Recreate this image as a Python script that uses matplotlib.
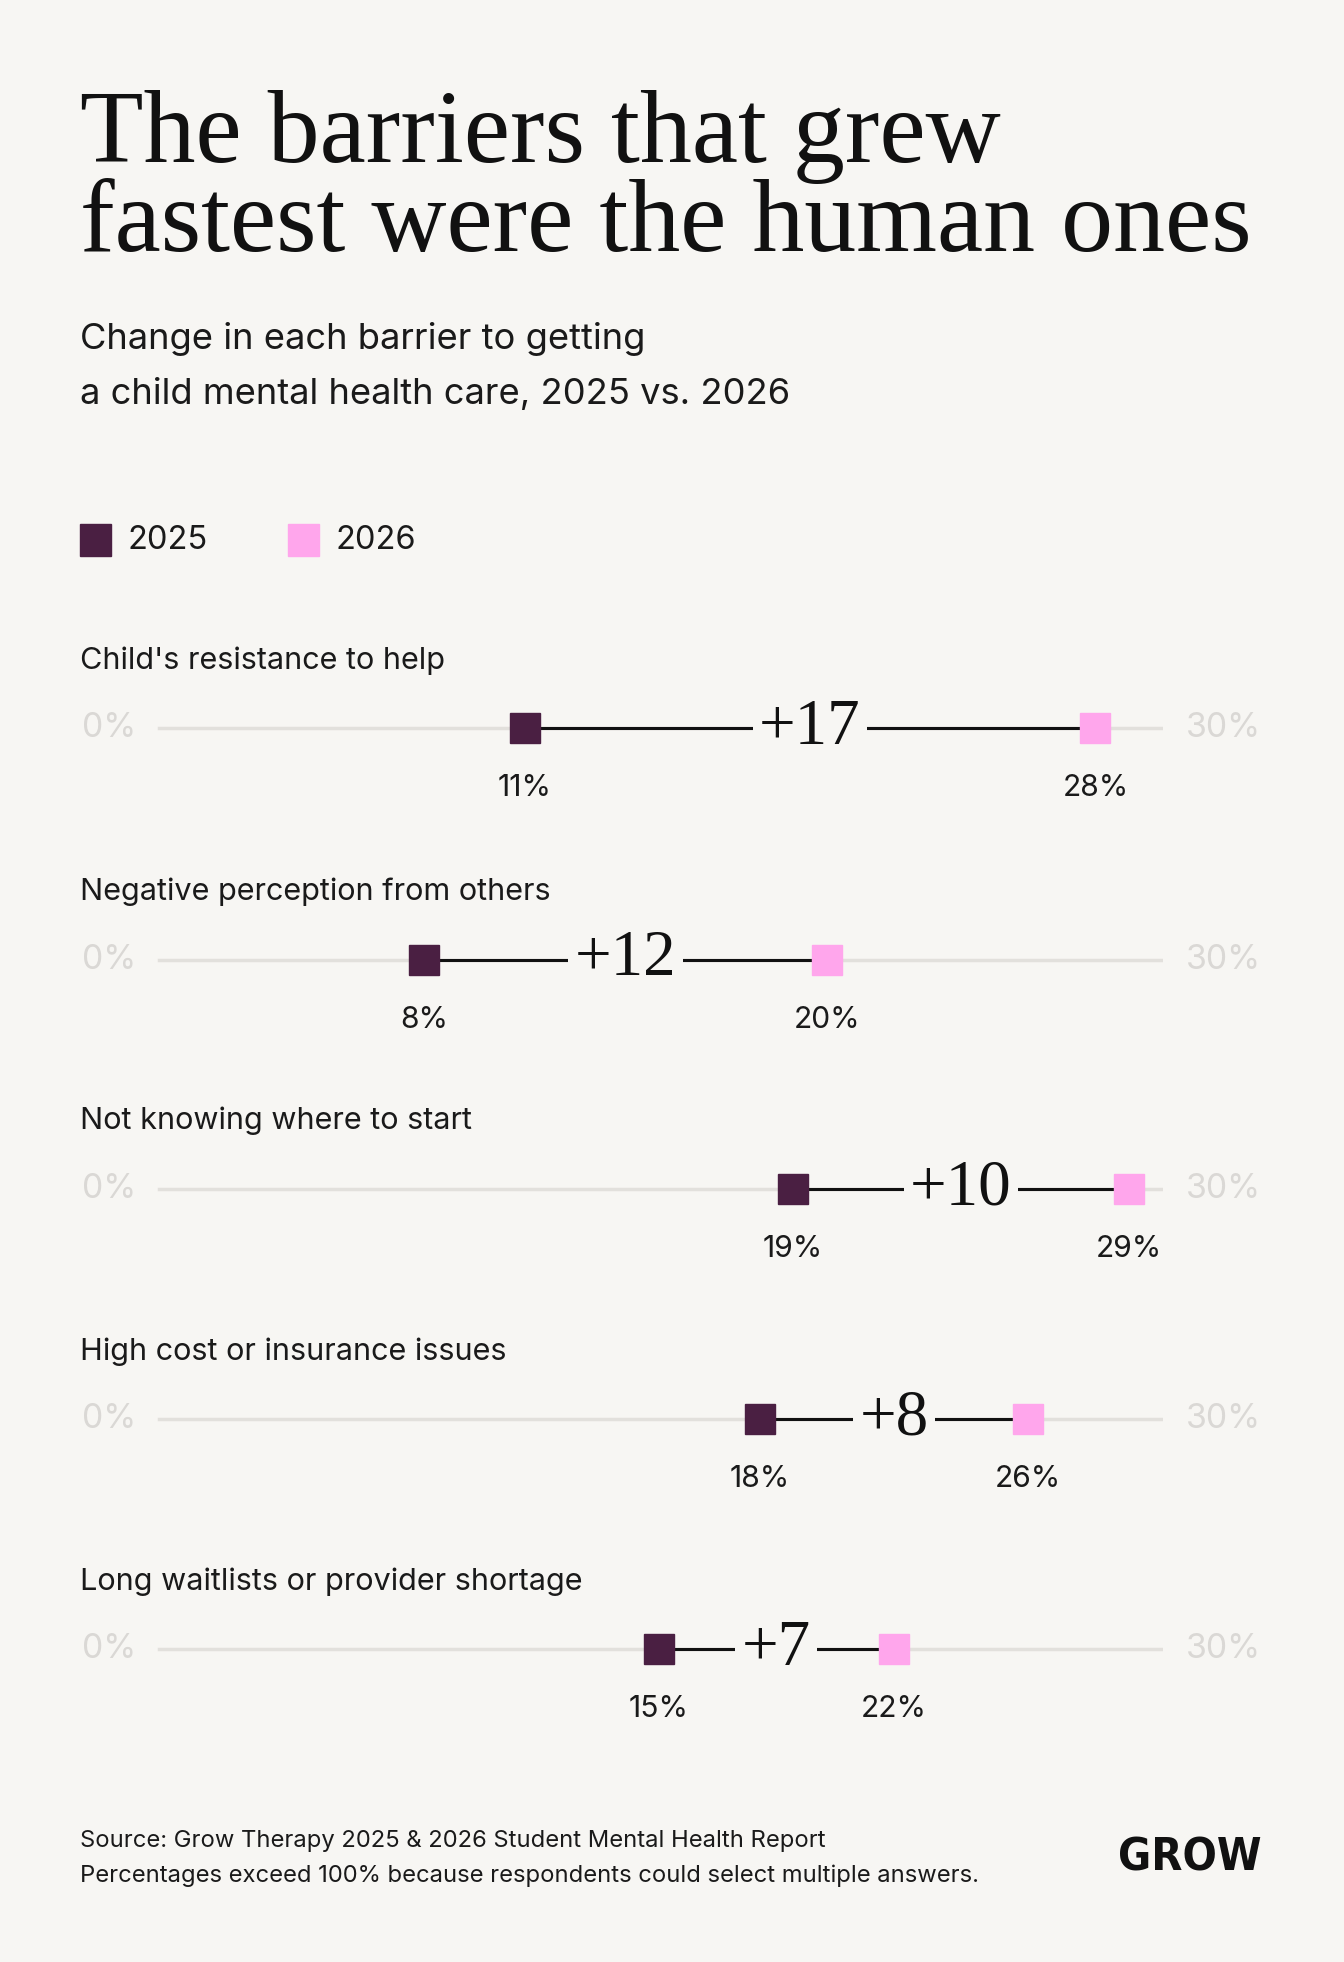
import matplotlib.pyplot as plt

categories = ["Child's resistance to help", "Negative perception from others",
              "Not knowing where to start", "High cost or insurance issues",
              "Long waitlists or provider shortage"]
vals_2025 = [11, 8, 19, 18, 15]
vals_2026 = [28, 20, 29, 26, 22]

BG = "#F7F6F3"
DARK = "#4A1F42"
PINK = "#FFA6EC"
W, H = 1074, 1568  # layout units (reference pixels)

plt.rcParams["font.family"] = ["Inter", "DejaVu Sans"]
fig = plt.figure(figsize=(13.44, 19.62), dpi=100, facecolor=BG)
S = 1344 / W


def fx(x):
    return x / W


def fy(y):
    return 1 - y / H


def pt(px):
    return px * S * 0.72


fig.text(fx(64), fy(145), "The barriers that grew\nfastest were the human ones",
         family="Liberation Serif", fontsize=pt(83), va="center", ha="left",
         linespacing=0.93, color="#111111")
fig.text(fx(64), fy(293), "Change in each barrier to getting\na child mental health care, 2025 vs. 2026",
         fontsize=pt(29), va="center", ha="left", linespacing=1.85, color="#1a1a1a")

# legend
for x0, lab, col in [(64, "2025", DARK), (230, "2026", PINK)]:
    fig.patches.append(plt.Rectangle((fx(x0), fy(444)), 25 / W, 25 / H,
                                     transform=fig.transFigure, color=col))
    fig.text(fx(x0 + 38), fy(432), lab, fontsize=pt(26), va="center", color="#1a1a1a")

x_left, x_right = 124, 929
base_y = [582, 767, 950, 1134, 1318]
for cat, v1, v2, yb in zip(categories, vals_2025, vals_2026, base_y):
    fig.text(fx(64), fy(yb - 54), cat, fontsize=pt(24.5), va="center", color="#1a1a1a")
    fig.text(fx(87), fy(yb), "0%", fontsize=pt(27), va="center", ha="center", color="#DAD8D5")
    fig.text(fx(978), fy(yb), "30%", fontsize=pt(27), va="center", ha="center", color="#DAD8D5")
    ax = fig.add_axes([fx(x_left), fy(yb + 40), (x_right - x_left) / W, 80 / H])
    ax.set_xlim(0, 30)
    ax.set_ylim(-1, 1)
    ax.axis("off")
    ax.patch.set_alpha(0)
    ax.plot([0.1, 30], [0, 0], color="#E2E0DC", lw=2.5, zorder=1)
    ax.plot([v1, v2], [0, 0], color="#111111", lw=2.2, zorder=2)
    ax.plot(v1, 0, marker="s", ms=pt(24), color=DARK, zorder=4, lw=0)
    ax.plot(v2, 0, marker="s", ms=pt(24), color=PINK, zorder=4, lw=0)
    ax.text((v1 + v2) / 2, 0, f"+{v2 - v1}", family="Liberation Serif", fontsize=pt(52),
            ha="center", va="center", color="#111111", zorder=3,
            bbox=dict(boxstyle="square,pad=0.1", fc=BG, ec="none"))
    for v in (v1, v2):
        ax.text(v, -1.2, f"{v}%", fontsize=pt(24), ha="center", va="center", color="#1a1a1a")

fig.text(fx(64), fy(1485), "Source: Grow Therapy 2025 & 2026 Student Mental Health Report\n"
         "Percentages exceed 100% because respondents could select multiple answers.",
         fontsize=pt(19), va="center", ha="left", linespacing=1.7, color="#1a1a1a")
fig.text(fx(1008), fy(1485), "GROW", fontsize=pt(36), fontweight="bold", ha="right",
         va="center", family="DejaVu Sans", fontstretch="condensed", color="#111111")

fig.savefig("out.png", dpi=100, facecolor=BG)
